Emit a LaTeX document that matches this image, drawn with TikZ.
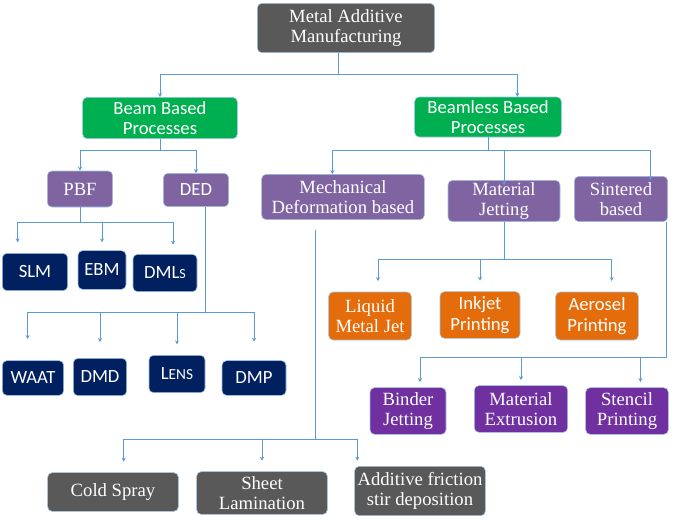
\documentclass[tikz,border=0pt]{standalone}
\usepackage{fontspec}
\setmainfont{Liberation Serif}
\newfontfamily\calib{Carlito}
\usetikzlibrary{arrows.meta}
\definecolor{darkgrey}{HTML}{595959}
\definecolor{beamgreen}{HTML}{00B050}
\definecolor{lilac}{HTML}{8064A2}
\definecolor{violet2}{HTML}{7030A0}
\definecolor{navy}{HTML}{002060}
\definecolor{orng}{HTML}{E46C0A}
\definecolor{linkblue}{HTML}{5B9BD5}

\begin{document}
\begin{tikzpicture}[
  x=0.75pt, y=-0.75pt,
  boxStyle/.style={rounded corners=0.12cm, draw=linkblue!60, line width=0.4pt, text=white, align=center, inner sep=1pt},
  serifText/.style={font=\fontsize{14}{15}\selectfont},
  sansText/.style={font=\calib\fontsize{14}{15.5}\selectfont},
  link/.style={draw=linkblue, line width=0.7pt, -{Stealth[length=3pt,width=3pt]}}]

\useasboundingbox (0,0) rectangle (685,521);

% top level
\node [boxStyle, serifText, fill=darkgrey, minimum width=133pt, minimum height=37pt] (mam) at (346,28) {Metal Additive\\Manufacturing};
\node [boxStyle, sansText, fill=beamgreen, minimum width=116pt, minimum height=31pt] (beam) at (160,118) {Beam Based\\Processes};
\node [boxStyle, sansText, fill=beamgreen, minimum width=110pt, minimum height=30pt] (beamless) at (488,117) {Beamless Based\\Processes};

% second level
\node [boxStyle, serifText, fill=lilac, minimum width=49pt, minimum height=27pt] (pbf) at (80,189) {PBF};
\node [boxStyle, sansText, fill=lilac, minimum width=49pt, minimum height=25pt] (ded) at (196,190) {DED};
\node [boxStyle, serifText, fill=lilac, minimum width=122pt, minimum height=34pt] (mech) at (343,197) {Mechanical\\Deformation based};
\node [boxStyle, serifText, fill=lilac, minimum width=84pt, minimum height=31pt] (jetting) at (504,201) {Material\\Jetting};
\node [boxStyle, serifText, fill=lilac, minimum width=70pt, minimum height=34pt] (sintered) at (621,199) {Sintered\\based};

% beam based leaves
\node [boxStyle, sansText, fill=navy, minimum width=49pt, minimum height=28pt] (slm) at (35,272) {SLM};
\node [boxStyle, sansText, fill=navy, minimum width=36pt, minimum height=29pt] (ebm) at (102,270) {EBM};
\node [boxStyle, sansText, fill=navy, minimum width=48pt, minimum height=28pt] (dmls) at (165,273) {DML{\fontsize{10.5}{12}\selectfont S}};
\node [boxStyle, sansText, fill=navy, minimum width=46pt, minimum height=26pt] (waat) at (33,378) {WAAT};
\node [boxStyle, sansText, fill=navy, minimum width=40pt, minimum height=28pt] (dmd) at (100,377) {DMD};
\node [boxStyle, sansText, fill=navy, minimum width=42pt, minimum height=28pt] (lens) at (177,374) {L{\fontsize{11.5}{12}\selectfont ENS}};
\node [boxStyle, sansText, fill=navy, minimum width=48pt, minimum height=26pt] (dmp) at (254,378) {DMP};

% jetting leaves
\node [boxStyle, serifText, fill=orng, minimum width=62pt, minimum height=36pt] (liquid) at (370,316) {Liquid\\Metal Jet};
\node [boxStyle, sansText, fill=orng, minimum width=60pt, minimum height=35pt] (inkjet) at (480,315) {Inkjet\\Printing};
\node [boxStyle, sansText, fill=orng, minimum width=62pt, minimum height=36pt] (aerosel) at (597,316) {Aerosel\\Printing};

% sintered leaves
\node [boxStyle, serifText, fill=violet2, minimum width=57pt, minimum height=35pt] (binder) at (408,411) {Binder\\Jetting};
\node [boxStyle, serifText, fill=violet2, minimum width=70pt, minimum height=35pt] (extrusion) at (521,409) {Material\\Extrusion};
\node [boxStyle, serifText, fill=violet2, minimum width=62pt, minimum height=35pt] (stencil) at (627,411) {Stencil\\Printing};

% mechanical leaves
\node [boxStyle, serifText, fill=darkgrey, minimum width=98pt, minimum height=29pt] (cold) at (113,492) {Cold Spray};
\node [boxStyle, serifText, fill=darkgrey, minimum width=98pt, minimum height=32pt] (sheet) at (262,493) {Sheet\\Lamination};
\node [boxStyle, serifText, fill=darkgrey, minimum width=98pt, minimum height=37pt] (friction) at (420,491) {Additive friction\\stir deposition};

% connectors
\draw [link] (mam.south) ++(-8,0) -- ++(0,22) -| (beam.north);
\draw [link] (mam.south) ++(-8,22) -| ([xshift=22pt]beamless.north);
\draw [link] (beam.south) -- ++(0,12) -| (pbf.north);
\draw [link] (beam.south) ++(0,12) -| (ded.north);
\draw [link] (beamless.south) -- ++(0,13) -| ([xshift=-8pt]mech.north);
\draw [link] (beamless.south) ++(0,13) -| ([yshift=-4pt]jetting.north);
\draw [link] (beamless.south) ++(0,13) -| ([xshift=22pt,yshift=-3pt]sintered.north);

\draw [link, shorten >=8pt] (pbf.south) -- ++(0,15) -| ([xshift=-13pt]slm.north);
\draw [link, shorten >=6pt] (pbf.south) ++(0,15) -| (ebm.north);
\draw [link, shorten >=7pt] (pbf.south) ++(0,15) -| ([xshift=6pt]dmls.north);

\draw [link, shorten >=16pt] ([xshift=7pt]ded.south) -- ++(0,106) -| ([xshift=-4pt]waat.north);
\draw [link, shorten >=12pt] ([xshift=7pt]ded.south) ++(0,106) -| (dmd.north);
\draw [link, shorten >=8pt] ([xshift=7pt]ded.south) ++(0,106) -| (lens.north);
\draw [link, shorten >=14pt] ([xshift=7pt]ded.south) ++(0,106) -| (dmp.north);

\draw [link, shorten >=8pt] (jetting.south) -- ++(0,38) -| ([xshift=6pt]liquid.north);
\draw [link, shorten >=8pt] (jetting.south) ++(0,38) -| (inkjet.north);
\draw [link, shorten >=8pt] (jetting.south) ++(0,38) -| ([xshift=11pt]aerosel.north);

\draw [link, shorten >=4pt] (sintered.south east) ++(-1,0) -- ++(0,136) -| ([xshift=9pt]binder.north);
\draw [link, shorten >=4pt] (sintered.south east) ++(-1,136) -| (extrusion.north);
\draw [link, shorten >=4pt] (sintered.south east) ++(-1,136) -| ([xshift=10pt]stencil.north);

\draw [link, shorten >=8pt] ([xshift=-21pt]mech.south) ++(0,10) -- ++(0,210) -| ([xshift=8pt]cold.north);
\draw [link, shorten >=8pt] ([xshift=-21pt]mech.south) ++(0,220) -| (sheet.north);
\draw [link, shorten >=4pt] ([xshift=-21pt]mech.south) ++(0,220) -| ([xshift=-47pt]friction.north);
\end{tikzpicture}
\end{document}
